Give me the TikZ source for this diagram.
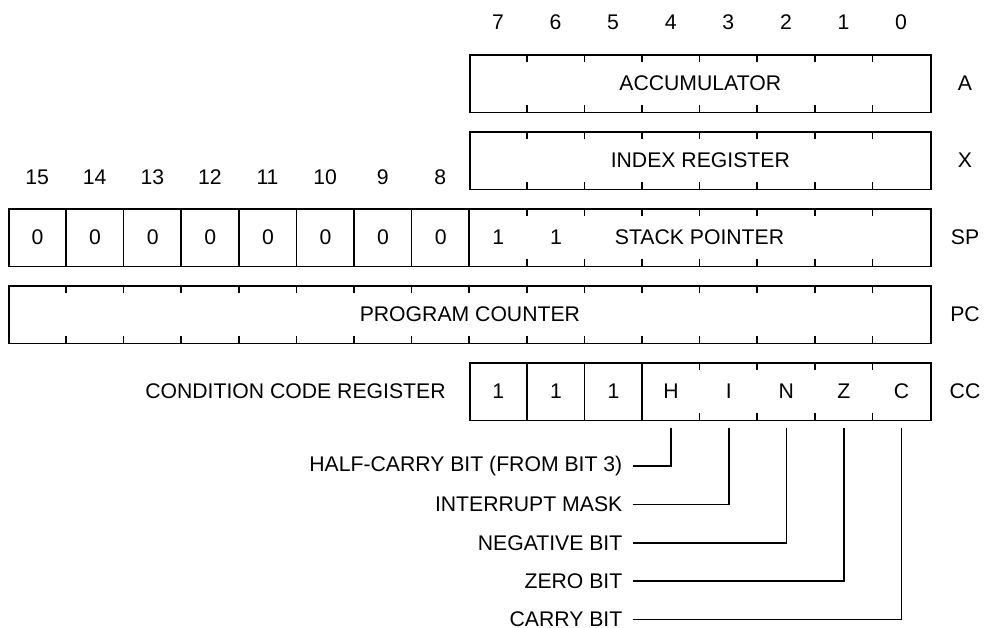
\documentclass[tikz,border=0pt]{standalone}
\usepackage{fontspec}
\setmainfont{Liberation Sans}
\usetikzlibrary{calc}
\tikzset{
	reg/.style={draw, line width=0.8pt, minimum height=28.75pt, inner sep=0pt, anchor=north west},
	bitcell/.style={minimum width=28.8pt, minimum height=28.75pt, inner sep=0pt, anchor=north west},
	tick/.style={line width=0.8pt},
	lead/.style={line width=0.8pt, shorten >=3.75pt},
	flag/.style={anchor=east, inner sep=5pt}
}

\begin{document}
\begin{tikzpicture}[x=0.5pt, y=-0.5pt, font=\fontsize{10.6}{12}\selectfont]
	\useasboundingbox (0,0) rectangle (994,627);

	% bit numbers
	\foreach \b in {0,...,7}
		\node (n\b) at ({8.3+(15.5-\b)*57.6},22) {\b};
	\foreach \b in {8,...,15}
		\node (n\b) at ({8.3+(15.5-\b)*57.6},177) {\b};

	% accumulator
	\node[reg, minimum width=230.4pt] (acc) at (469.1,54) {ACCUMULATOR};
	\foreach \k in {1,...,7}
		\draw[tick] ($(acc.north west)+(\k*57.6,0)$) -- ++(0,8) ($(acc.south west)+(\k*57.6,0)$) -- ++(0,-8);
	\node (racc) at (965,83) {A};

	% index register
	\node[reg, minimum width=230.4pt] (idx) at (469.1,131) {INDEX REGISTER};
	\foreach \k in {1,...,7}
		\draw[tick] ($(idx.north west)+(\k*57.6,0)$) -- ++(0,8) ($(idx.south west)+(\k*57.6,0)$) -- ++(0,-8);
	\node (ridx) at (965,160) {X};

	% stack pointer
	\node[reg, minimum width=460.8pt] (sp) at (8.3,208) {};
	\foreach \b in {8,...,15}
		\node[bitcell] (s\b) at ({8.3+(15-\b)*57.6},208) {0};
	\foreach \b in {6,7}
		\node[bitcell] (s\b) at ({8.3+(15-\b)*57.6},208) {1};
	\foreach \k in {1,...,8}
		\draw[tick] ($(sp.north west)+(\k*57.6,0)$) -- ($(sp.south west)+(\k*57.6,0)$);
	\foreach \k in {9,...,15}
		\draw[tick] ($(sp.north west)+(\k*57.6,0)$) -- ++(0,8) ($(sp.south west)+(\k*57.6,0)$) -- ++(0,-8);
	\node (sptxt) at (699.5,237) {STACK POINTER};
	\node (rsp) at (965,237) {SP};

	% program counter
	\node[reg, minimum width=460.8pt] (pc) at (8.3,285) {PROGRAM COUNTER};
	\foreach \k in {1,...,15}
		\draw[tick] ($(pc.north west)+(\k*57.6,0)$) -- ++(0,8) ($(pc.south west)+(\k*57.6,0)$) -- ++(0,-8);
	\node (rpc) at (965,314) {PC};

	% condition codes
	\node[reg, minimum width=230.4pt] (ccr) at (469.1,362) {};
	\foreach \t [count=\i from 0] in {1,1,1,H,I,N,Z,C}
		\node[bitcell] (c\i) at ({469.1+\i*57.6},362) {\t};
	\foreach \k in {1,...,3}
		\draw[tick] ($(ccr.north west)+(\k*57.6,0)$) -- ($(ccr.south west)+(\k*57.6,0)$);
	\foreach \k in {4,...,7}
		\draw[tick] ($(ccr.north west)+(\k*57.6,0)$) -- ++(0,8) ($(ccr.south west)+(\k*57.6,0)$) -- ++(0,-8);
	\node[anchor=east, inner sep=0pt] (cctxt) at (446,391) {CONDITION CODE REGISTER};
	\node (rcc) at (965,391) {CC};

	% flag bits
	\node[flag] (fh) at (632.7,465.7) {HALF-CARRY BIT (FROM BIT 3)};
	\node[flag] (fi) at (632.7,504.3) {INTERRUPT MASK};
	\node[flag] (fn) at (632.7,542.7) {NEGATIVE BIT};
	\node[flag] (fz) at (632.7,581) {ZERO BIT};
	\node[flag] (fc) at (632.7,619.5) {CARRY BIT};
	\draw[lead] (fh.east) -| (c3);
	\draw[lead] (fi.east) -| (c4);
	\draw[lead] (fn.east) -| (c5);
	\draw[lead] (fz.east) -| (c6);
	\draw[lead] (fc.east) -| (c7);
\end{tikzpicture}
\end{document}
